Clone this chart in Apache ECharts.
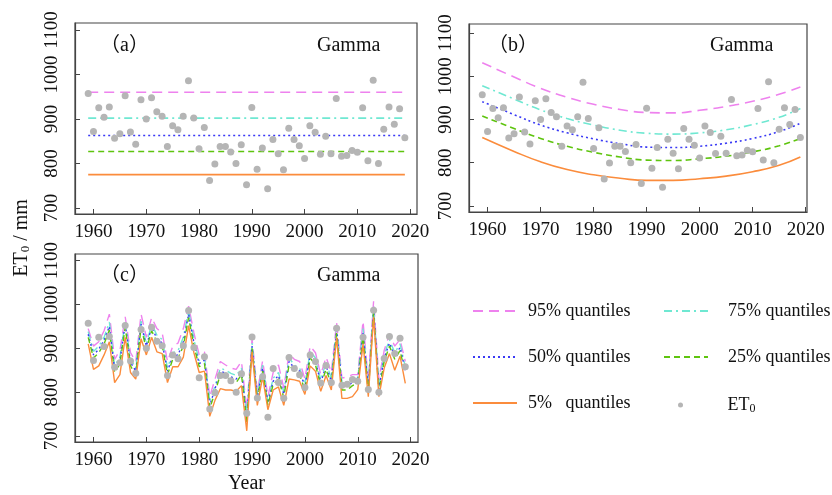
<!DOCTYPE html>
<html><head><meta charset="utf-8">
<script src="https://cdn.jsdelivr.net/npm/echarts@6/dist/echarts.min.js"></script>
<style>html,body{margin:0;padding:0;background:#fff}#c{width:832px;height:495px}</style>
</head><body><div id="c"></div>
<script>
const years = [1959,1960,1961,1962,1963,1964,1965,1966,1967,1968,1969,1970,1971,1972,1973,1974,1975,1976,1977,1978,1979,1980,1981,1982,1983,1984,1985,1986,1987,1988,1989,1990,1991,1992,1993,1994,1995,1996,1997,1998,1999,2000,2001,2002,2003,2004,2005,2006,2007,2008,2009,2010,2011,2012,2013,2014,2015,2016,2017,2018,2019];
const et0 = [957,872,925,904,927,857,867,952,871,843,943,900,948,916,906,838,885,876,906,986,902,833,881,762,799,838,838,826,800,842,752,926,787,835,743,854,822,786,879,854,840,811,885,870,821,861,822,946,816,818,829,825,925,806,987,800,877,927,888,923,858];

// panel (a): stationary quantiles
const qA95 = 960, qA75 = 902, qA50 = 863, qA25 = 827, qA5 = 775;
const spanA = [1959, 2019];

// panel (b): quantile curves read at these years
const yearsB = [1959,1965,1970,1975,1980,1985,1990,1995,2000,2005,2010,2015,2019];
const qB95 = [1031,998,972,951,935,923,916,915,921,930,942,958,975];
const qB75 = [978,947,922,902,887,875,868,866,869,876,888,905,925];
const qB50 = [941,911,887,869,855,844,836,835,838,845,856,872,891];
const qB25 = [908,879,856,838,824,813,806,805,809,815,825,839,856];
const qB5  = [858,826,802,784,772,764,759,759,763,769,779,794,813];

// panel (c): yearly quantiles
const qC95 = [945,905,915,940,978,875,895,972,890,870, 978,925,970,945,935,870,905,912,945,996, 935,885,892,790,830,870,862,855,852,870, 760,922,800,872,790,845,862,810,888,875, 870,830,905,890,840,880,845,958,832,835, 840,840,962,825,1008,830,895,932,905,920, 870];
const qC75 = [938,893,905,925,960,860,880,960,875,855, 962,910,955,930,920,855,890,895,925,985, 920,872,880,778,815,855,850,843,838,855, 748,912,792,862,780,832,845,800,878,862, 855,818,893,878,828,868,832,948,822,822, 830,832,945,815,995,815,885,920,890,910, 858];
const qC50 = [932,885,898,918,950,852,872,955,868,848, 955,905,948,922,912,848,882,885,915,978, 912,865,873,770,808,848,843,835,830,848, 740,905,787,855,775,825,838,795,870,855, 848,812,885,870,822,860,825,942,815,815, 822,826,935,808,988,808,878,912,882,902, 850];
const qC25 = [925,878,890,910,942,845,865,948,860,840, 948,898,940,915,905,840,875,878,905,970, 905,858,865,763,800,840,835,828,822,840, 732,900,782,848,770,818,830,788,862,848, 840,805,878,862,815,852,818,935,805,805, 815,820,928,800,982,800,870,905,875,895, 842];
const qC5  = [910,852,860,885,915,822,840,925,845,830, 922,885,925,892,888,822,858,858,880,952, 890,845,848,745,782,808,805,805,802,815, 712,892,770,835,760,805,812,770,830,828, 825,795,860,848,802,838,805,925,786,786, 790,806,910,790,972,790,855,888,850,882, 820];

const xTicks = [1960,1970,1980,1990,2000,2010,2020];
const yTicks = [700,800,900,1000,1100];
const names = ['95% quantiles','75% quantiles','50% quantiles','25% quantiles','5%   quantiles','ET0'];

const FONT = 'Liberation Serif';
const styles = [
  {color:'#ee82ee', type:[10,6]},
  {color:'#6fe8d2', type:[8,4,2,4]},
  {color:'#3a3af5', type:[2,3]},
  {color:'#5ec40e', type:[6,4]},
  {color:'#fb8c3c', type:'solid'}
];
const dotColor = '#b5b5b5';

function zip(xs, ys){ return xs.map((x,i)=>[x, ys[i]]); }

const grids = [
  {left:75, top:23, right:415, bottom:281},
  {left:469, top:24, right:25, bottom:283},
  {left:75, top:254, right:414, bottom:51}
];
const xRanges = [[1956.5,2021.3],[1956.5,2020.25],[1956.5,2021.4]];
const yRanges = [[686.5,1115.7],[686,1120.5],[686.5,1115]];

const axisColor = '#444';
const plain = v => String(Math.round(v));
const xAxes = grids.map((g,i)=>({
  type:'value', gridIndex:i, min:xRanges[i][0], max:xRanges[i][1],
  splitLine:{show:false},
  axisLine:{lineStyle:{color:axisColor, width:1.2}},
  axisTick:{inside:true, length:5, customValues:xTicks, lineStyle:{color:axisColor}},
  axisLabel:{customValues:xTicks, formatter:plain, color:'#111', fontFamily:FONT, fontSize:19, margin:9},
  name: i===2 ? 'Year' : '', nameLocation:'middle', nameGap:32,
  nameTextStyle:{color:'#111', fontFamily:FONT, fontSize:20}
}));
const yAxes = grids.map((g,i)=>({
  type:'value', gridIndex:i, min:yRanges[i][0], max:yRanges[i][1],
  splitLine:{show:false},
  axisLine:{lineStyle:{color:axisColor, width:1.2}},
  axisTick:{inside:true, length:5, customValues:yTicks, lineStyle:{color:axisColor}},
  axisLabel:{customValues:yTicks, formatter:plain, rotate:90, color:'#111', fontFamily:FONT, fontSize:19, margin:13}
}));

const series = [];
const qA = [qA95,qA75,qA50,qA25,qA5];
const qB = [qB95,qB75,qB50,qB25,qB5];
const qC = [qC95,qC75,qC50,qC25,qC5];
for (let k=0;k<5;k++){
  series.push({type:'line', name:names[k], xAxisIndex:0, yAxisIndex:0, symbol:'none',
    data: spanA.map(x=>[x, qA[k]]), lineStyle:{color:styles[k].color, type:styles[k].type, width:1.6},
    itemStyle:{color:styles[k].color}, z:2});
  series.push({type:'line', name:names[k], xAxisIndex:1, yAxisIndex:1, symbol:'none', smooth:true,
    data: zip(yearsB, qB[k]), lineStyle:{color:styles[k].color, type:styles[k].type, width:1.6},
    itemStyle:{color:styles[k].color}, z:2});
  series.push({type:'line', name:names[k], xAxisIndex:2, yAxisIndex:2, symbol:'none',
    data: zip(years, qC[k]), lineStyle:{color:styles[k].color, type:styles[k].type, width:1.4},
    itemStyle:{color:styles[k].color}, z:2});
}
for (let i=0;i<3;i++){
  series.push({type:'scatter', name:'ET0', xAxisIndex:i, yAxisIndex:i, symbolSize:7,
    data: zip(years, et0), itemStyle:{color:dotColor, opacity:1}, z:3});
}

const legText = {color:'#111', fontFamily:FONT, fontSize:18,
  rich:{sub:{fontFamily:FONT, fontSize:12, verticalAlign:'bottom', padding:[8,0,0,0], color:'#111'}}};
const fmt = n => n==='ET0' ? 'ET{sub|0}' : n;
const hiddenSym = {color:'transparent', borderColor:'transparent', borderWidth:0, opacity:0};

const label = (txt, x, y) => ({type:'text', left:x, top:y,
  style:{text:txt, fill:'#111', font:'20px "Liberation Serif", "Noto Sans CJK SC"'}});

const option = {
  animation:false,
  backgroundColor:'#fff',
  grid: grids.map(g=>Object.assign({show:true, borderColor:axisColor, borderWidth:1.2, backgroundColor:'transparent'}, g)),
  xAxis:xAxes, yAxis:yAxes, series,
  legend:[
    {orient:'vertical', left:467, top:297, itemWidth:44, itemHeight:14, itemGap:28,
     data:[names[0],names[2],names[4]], formatter:fmt, itemStyle:hiddenSym,
     textStyle:Object.assign({padding:[0,0,0,6]}, legText), selectedMode:false},
    {orient:'vertical', left:658, top:297, itemWidth:44, itemHeight:14, itemGap:28,
     data:[names[1],names[3]], formatter:fmt, itemStyle:hiddenSym,
     textStyle:Object.assign({padding:[0,0,0,15]}, legText), selectedMode:false},
    {orient:'vertical', left:673, top:391, itemWidth:44, itemHeight:5, itemGap:28,
     data:[names[5]], formatter:fmt,
     textStyle:Object.assign({padding:[0,0,0,20]}, legText), selectedMode:false}
  ],
  graphic:[
    label('（a）', 100, 36), {type:'text', left:317, top:36, style:{text:'Gamma', fill:'#111', font:'20px "Liberation Serif"'}},
    label('（b）', 488, 36), {type:'text', left:710, top:36, style:{text:'Gamma', fill:'#111', font:'20px "Liberation Serif"'}},
    label('（c）', 100, 266), {type:'text', left:317, top:266, style:{text:'Gamma', fill:'#111', font:'20px "Liberation Serif"'}},
    {type:'text', x:22, y:238, rotation:Math.PI/2,
     style:{text:'ET{sub|0} / mm', fill:'#111', font:'20px "Liberation Serif"', align:'center', verticalAlign:'middle',
       rich:{sub:{font:'13px "Liberation Serif"', fill:'#111', verticalAlign:'bottom', padding:[8,0,0,0]}}}}
  ]
};
const chart = echarts.init(document.getElementById('c'), null, {renderer:'canvas'});
chart.setOption(option);
</script></body></html>
